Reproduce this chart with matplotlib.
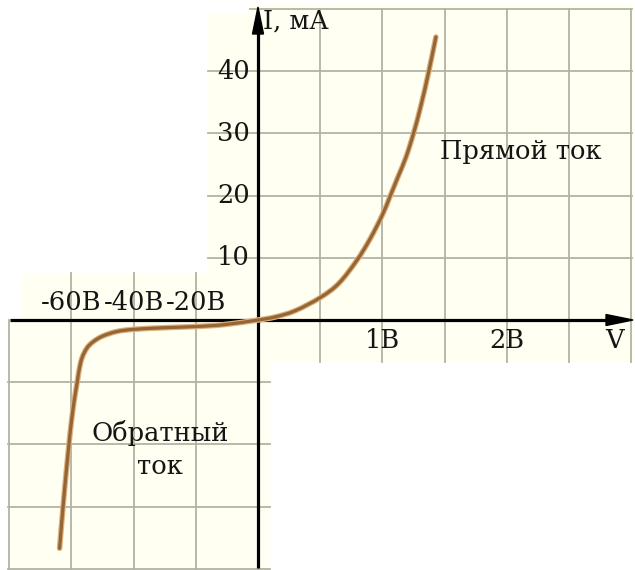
import numpy as np
import matplotlib
matplotlib.use("Agg")
import matplotlib.pyplot as plt
from matplotlib.patches import Rectangle, Polygon, PathPatch
from matplotlib.path import Path

# ---------------- data ----------------
# forward branch: voltage (V), current (mA)
fwd_v = [0.0, 0.14, 0.30, 0.50, 0.65, 0.795, 0.90, 1.00, 1.06, 1.125, 1.19, 1.25, 1.31, 1.37, 1.43]
fwd_i = [0.0, 0.5, 1.5, 3.6, 5.9, 9.6, 13.0, 16.9, 19.8, 23.0, 26.2, 30.0, 34.5, 39.7, 45.5]
# reverse branch: voltage (V), current (mA)
rev_v = [0.0, -11.0, -20.0, -30.6, -40.0, -45.4, -50.0, -53.0, -55.0, -56.6, -57.5,
         -58.1, -59.2, -60.2, -60.8, -61.6, -62.7, -63.8]
rev_i = [0.0, -0.00075, -0.00105, -0.00125, -0.0015, -0.00185, -0.0026, -0.0035, -0.0045,
         -0.0061, -0.0080, -0.0099, -0.0133, -0.0172, -0.0201, -0.0241, -0.0301, -0.0367]

x_pos_grid = [0.5, 1.0, 1.5, 2.0, 2.5, 3.0]       # V
x_neg_grid = [-20, -40, -60]                      # V
x_neg_edge = [-80]                                # V
y_pos_grid = [10, 20, 30, 40]                     # mA
y_pos_edge = [50]                                 # mA
y_neg_grid = [-0.01, -0.02, -0.03, -0.04]         # mA

y_tick_labels = ["10", "20", "30", "40"]
x_pos_label_vals = [1.0, 2.0]
x_pos_labels = ["1В", "2В"]
x_neg_label_vals = [-60, -40, -20]
x_neg_labels = ["-60В", "-40В", "-20В"]

# ---------------- layout helpers ----------------
W, H = 635, 570
CELL = 62.2
OX, OY = 258, 320

def fx(px):
    return px / W

def fy(py):
    return 1 - py / H

# piecewise linear scales (different units per half-axis)
def xf(v):
    v = np.asarray(v, float)
    return np.where(v >= 0, v / 0.5, v / 20.0)

def xi(c):
    c = np.asarray(c, float)
    return np.where(c >= 0, c * 0.5, c * 20.0)

def yf(i):
    i = np.asarray(i, float)
    return np.where(i >= 0, i / 10.0, i / 0.01)

def yi(c):
    c = np.asarray(c, float)
    return np.where(c >= 0, c * 10.0, c * 0.01)

fig = plt.figure(figsize=(W / 100, H / 100), dpi=100)
fig.patch.set_facecolor("white")
ax = fig.add_axes([0, 0, 1, 1])
ax.set_xscale("function", functions=(xf, xi))
ax.set_yscale("function", functions=(yf, yi))
ax.set_xlim(float(xi(-OX / CELL)), float(xi((W - OX) / CELL)))
ax.set_ylim(float(yi(-(H - OY) / CELL)), float(yi(OY / CELL)))
ax.axis("off")

CREAM = "#fffff2"
GRID = "#b3b3a5"
FONT = dict(family="DejaVu Serif", color="#151515")

# cream background regions
regions = [
    (208, 13, 633, 362),   # upper right
    (250, 3, 633, 13),     # top strip
    (22, 273, 208, 320),   # negative labels strip
    (8, 320, 270, 570),    # lower left
]
for x0, y0, x1, y1 in regions:
    ax.add_patch(Rectangle((fx(x0), fy(y1)), fx(x1) - fx(x0), fy(y0) - fy(y1),
                           transform=ax.transAxes, facecolor=CREAM, edgecolor="none", zorder=0))

xt = ax.get_xaxis_transform()   # x data, y axes
yt = ax.get_yaxis_transform()   # x axes, y data
glw = 1.3

for v in x_pos_grid:
    ax.plot([v, v], [fy(362), fy(9)], transform=xt, color=GRID, lw=glw, zorder=1)
for v in x_neg_grid:
    ax.plot([v, v], [fy(570), fy(273)], transform=xt, color=GRID, lw=glw, zorder=1)
for v in x_neg_edge:
    ax.plot([v, v], [fy(570), fy(320)], transform=xt, color=GRID, lw=glw, zorder=1)
for i in y_pos_grid:
    ax.plot([fx(208), fx(632)], [i, i], transform=yt, color=GRID, lw=glw, zorder=1)
for i in y_pos_edge:
    ax.plot([fx(250), fx(632)], [i, i], transform=yt, color=GRID, lw=glw, zorder=1)
for i in y_neg_grid:
    ax.plot([fx(8), fx(270)], [i, i], transform=yt, color=GRID, lw=glw, zorder=1)

# axes lines
ax.plot([fx(10), fx(612)], [0, 0], transform=yt, color="black", lw=2.3, zorder=3, solid_capstyle="butt")
ax.plot([0, 0], [fy(568), fy(28)], transform=xt, color="black", lw=2.3, zorder=3, solid_capstyle="butt")
# arrow heads
ax.add_patch(Polygon([(fx(OX), fy(7)), (fx(OX - 5.5), fy(34)), (fx(OX + 5.5), fy(34))],
                     closed=True, transform=ax.transAxes, color="black", zorder=4))
ax.add_patch(Polygon([(fx(633), fy(OY)), (fx(606), fy(OY - 5.5)), (fx(606), fy(OY + 5.5))],
                     closed=True, transform=ax.transAxes, color="black", zorder=4))

# curve: smooth Bezier path through the read points (built in scaled space)
cv = np.array(list(reversed(rev_v)) + fwd_v[1:], float)
ci = np.array(list(reversed(rev_i)) + fwd_i[1:], float)
P = np.column_stack([xf(cv), yf(ci)])
Pp = np.vstack([P[0], P, P[-1]])
verts = [P[0]]
codes = [Path.MOVETO]
for k in range(len(P) - 1):
    p0, p1, p2, p3 = Pp[k], Pp[k + 1], Pp[k + 2], Pp[k + 3]
    c1 = p1 + (p2 - p0) / 6.0
    c2 = p2 - (p3 - p1) / 6.0
    verts += [c1, c2, p2]
    codes += [Path.CURVE4] * 3
verts = np.array(verts)
verts_data = np.column_stack([xi(verts[:, 0]), yi(verts[:, 1])])
path = Path(verts_data, codes)
ax.add_patch(PathPatch(path, transform=ax.transData, fill=False, edgecolor="#dcb080", lw=4.0,
                       capstyle="round", joinstyle="round", zorder=5))
ax.add_patch(PathPatch(path, transform=ax.transData, fill=False, edgecolor="#956533", lw=2.3,
                       capstyle="round", joinstyle="round", zorder=6))

# texts
fs = 18.5
for val, lab in zip(y_pos_grid, y_tick_labels):
    ax.text(fx(250), val, lab, transform=yt, ha="right", va="center", fontsize=fs, zorder=7, **FONT)
for val, lab in zip(x_pos_label_vals, x_pos_labels):
    ax.text(val, fy(340), lab, transform=xt, ha="center", va="center", fontsize=fs, zorder=7, **FONT)
for val, lab in zip(x_neg_label_vals, x_neg_labels):
    ax.text(val, fy(302), lab, transform=xt, ha="center", va="center", fontsize=fs, zorder=7, **FONT)
ax.text(fx(615), fy(340), "V", transform=ax.transAxes, ha="center", va="center", fontsize=fs, zorder=7, **FONT)
ax.text(fx(263), fy(21), "I, мА", transform=ax.transAxes, ha="left", va="center", fontsize=fs, zorder=7, **FONT)
ax.text(fx(521), fy(152), "Прямой ток", transform=ax.transAxes, ha="center", va="center", fontsize=fs, zorder=7, **FONT)
ax.text(fx(160), fy(433), "Обратный", transform=ax.transAxes, ha="center", va="center", fontsize=fs, zorder=7, **FONT)
ax.text(fx(160), fy(466), "ток", transform=ax.transAxes, ha="center", va="center", fontsize=fs, zorder=7, **FONT)

fig.savefig("out.png", dpi=100, facecolor="white")
